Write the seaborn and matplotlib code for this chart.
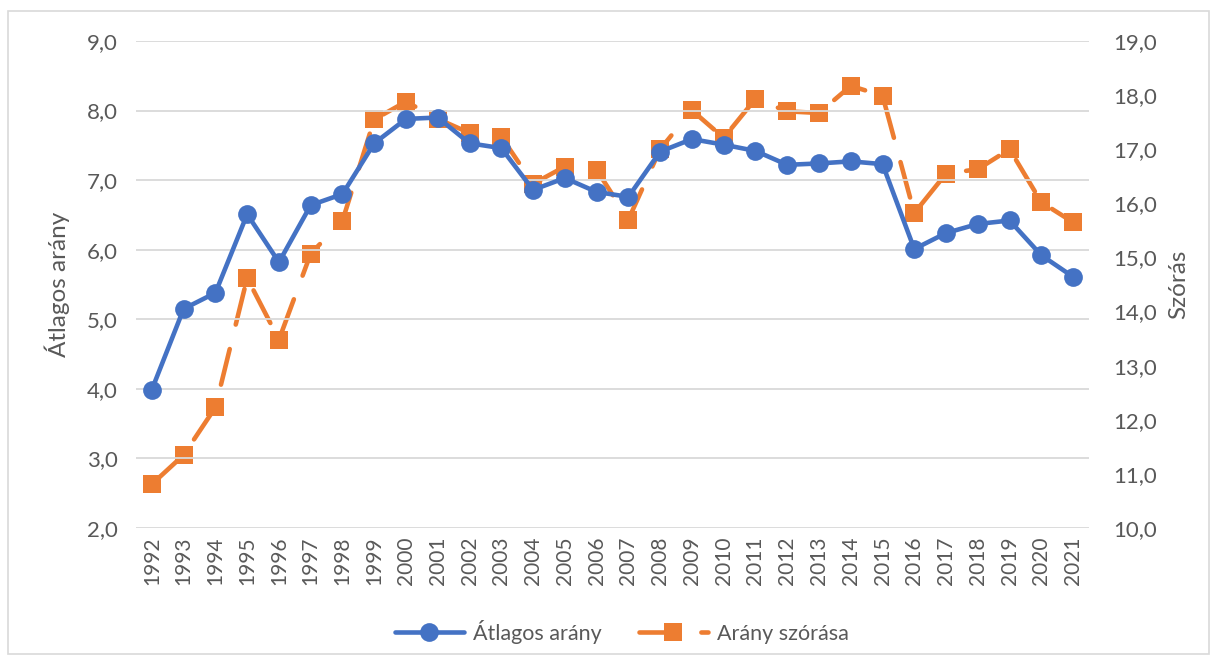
import numpy as np
import pandas as pd
import matplotlib
matplotlib.use("Agg")
import matplotlib.pyplot as plt
import seaborn as sns
from matplotlib.patches import Rectangle

years = list(range(1992, 2022))
atlagos_arany = [3.99, 5.15, 5.38, 6.51, 5.82, 6.64, 6.80, 7.53, 7.88, 7.90,
                 7.53, 7.46, 6.86, 7.03, 6.83, 6.76, 7.41, 7.59, 7.51, 7.42,
                 7.22, 7.24, 7.27, 7.23, 6.01, 6.24, 6.37, 6.42, 5.92, 5.61]
arany_szorasa = [10.81, 11.35, 12.23, 14.62, 13.48, 15.07, 15.68, 17.55, 17.88, 17.56,
                 17.30, 17.23, 16.36, 16.68, 16.62, 15.70, 17.00, 17.72, 17.21, 17.93,
                 17.70, 17.67, 18.17, 17.99, 15.82, 16.55, 16.63, 17.00, 16.02, 15.65]
left_ticks = [2, 3, 4, 5, 6, 7, 8, 9]
right_ticks = [10, 11, 12, 13, 14, 15, 16, 17, 18, 19]
label_left = "Átlagos arány"
label_right = "Arány szórása"

df = pd.DataFrame({"ev": years, "atlag": atlagos_arany, "szoras": arany_szorasa})

sns.set_theme(style="white")
plt.rcParams['font.family'] = ['Lato', 'DejaVu Sans']
TXT = "#595959"
BLUE = "#4472C4"
ORANGE = "#ED7D31"

fig = plt.figure(figsize=(12.15, 6.6), dpi=100)
ax = fig.add_axes([136/1215, 1-528/660, (1089-136)/1215, (528-41)/660])
ax2 = ax.twinx()

sns.lineplot(data=df, x="ev", y="atlag", ax=ax, color=BLUE, marker="o",
             markersize=13.5, markeredgewidth=0, linewidth=3.3, label=label_left,
             legend=False, zorder=3)
sns.lineplot(data=df, x="ev", y="szoras", ax=ax2, color=ORANGE, marker="s",
             markersize=13.5, markeredgewidth=0, linewidth=3.3, label=label_right,
             legend=False, linestyle=(0, (8, 5.5)), dash_capstyle="round", zorder=2)

ax.set_ylim(2, 9)
ax2.set_ylim(10, 19)
ax.set_xlim(1991.5, 2021.5)
ax.set_yticks(left_ticks)
ax.set_yticklabels([f"{v:.1f}".replace(".", ",") for v in left_ticks])
ax2.set_yticks(right_ticks)
ax2.set_yticklabels([f"{v:.1f}".replace(".", ",") for v in right_ticks])
ax.set_xticks(years)
ax.set_xticklabels([str(y) for y in years], rotation=90)

ax.grid(axis="y", color="#D9D9D9", linewidth=1.3)
ax.set_axisbelow(True)
for a in (ax, ax2):
    for s in a.spines.values():
        s.set_visible(False)
    a.tick_params(length=0, colors=TXT)
ax.tick_params(axis="y", labelsize=16, pad=13)
ax2.tick_params(axis="y", labelsize=16, pad=17.3)
ax.tick_params(axis="x", labelsize=15, pad=6)

ax.set_xlabel("")
ax.set_ylabel("Átlagos arány", fontsize=17.5, color=TXT)
ax2.set_ylabel("Szórás", fontsize=17.5, color=TXT)
ax.yaxis.set_label_coords(-0.069, 0.50)
ax2.yaxis.set_label_coords(1.083, 0.5)

ax.set_zorder(ax2.get_zorder() + 1)
ax.patch.set_visible(False)

h1, l1 = ax.get_legend_handles_labels()
h2, l2 = ax2.get_legend_handles_labels()
fig.legend(h1 + h2, [label_left, label_right], loc="center", ncol=2,
           bbox_to_anchor=(622/1215, 1 - 632/660), frameon=False, fontsize=15.5,
           handlelength=3.2, columnspacing=1.7, handletextpad=0.45, labelcolor=TXT)

fig.patches.append(Rectangle((8/1215, 1-654/660), (1209-8)/1215, (654-11)/660,
                             transform=fig.transFigure, fill=False,
                             edgecolor="#D9D9D9", linewidth=1.2))

fig.savefig("out.png", dpi=100)
